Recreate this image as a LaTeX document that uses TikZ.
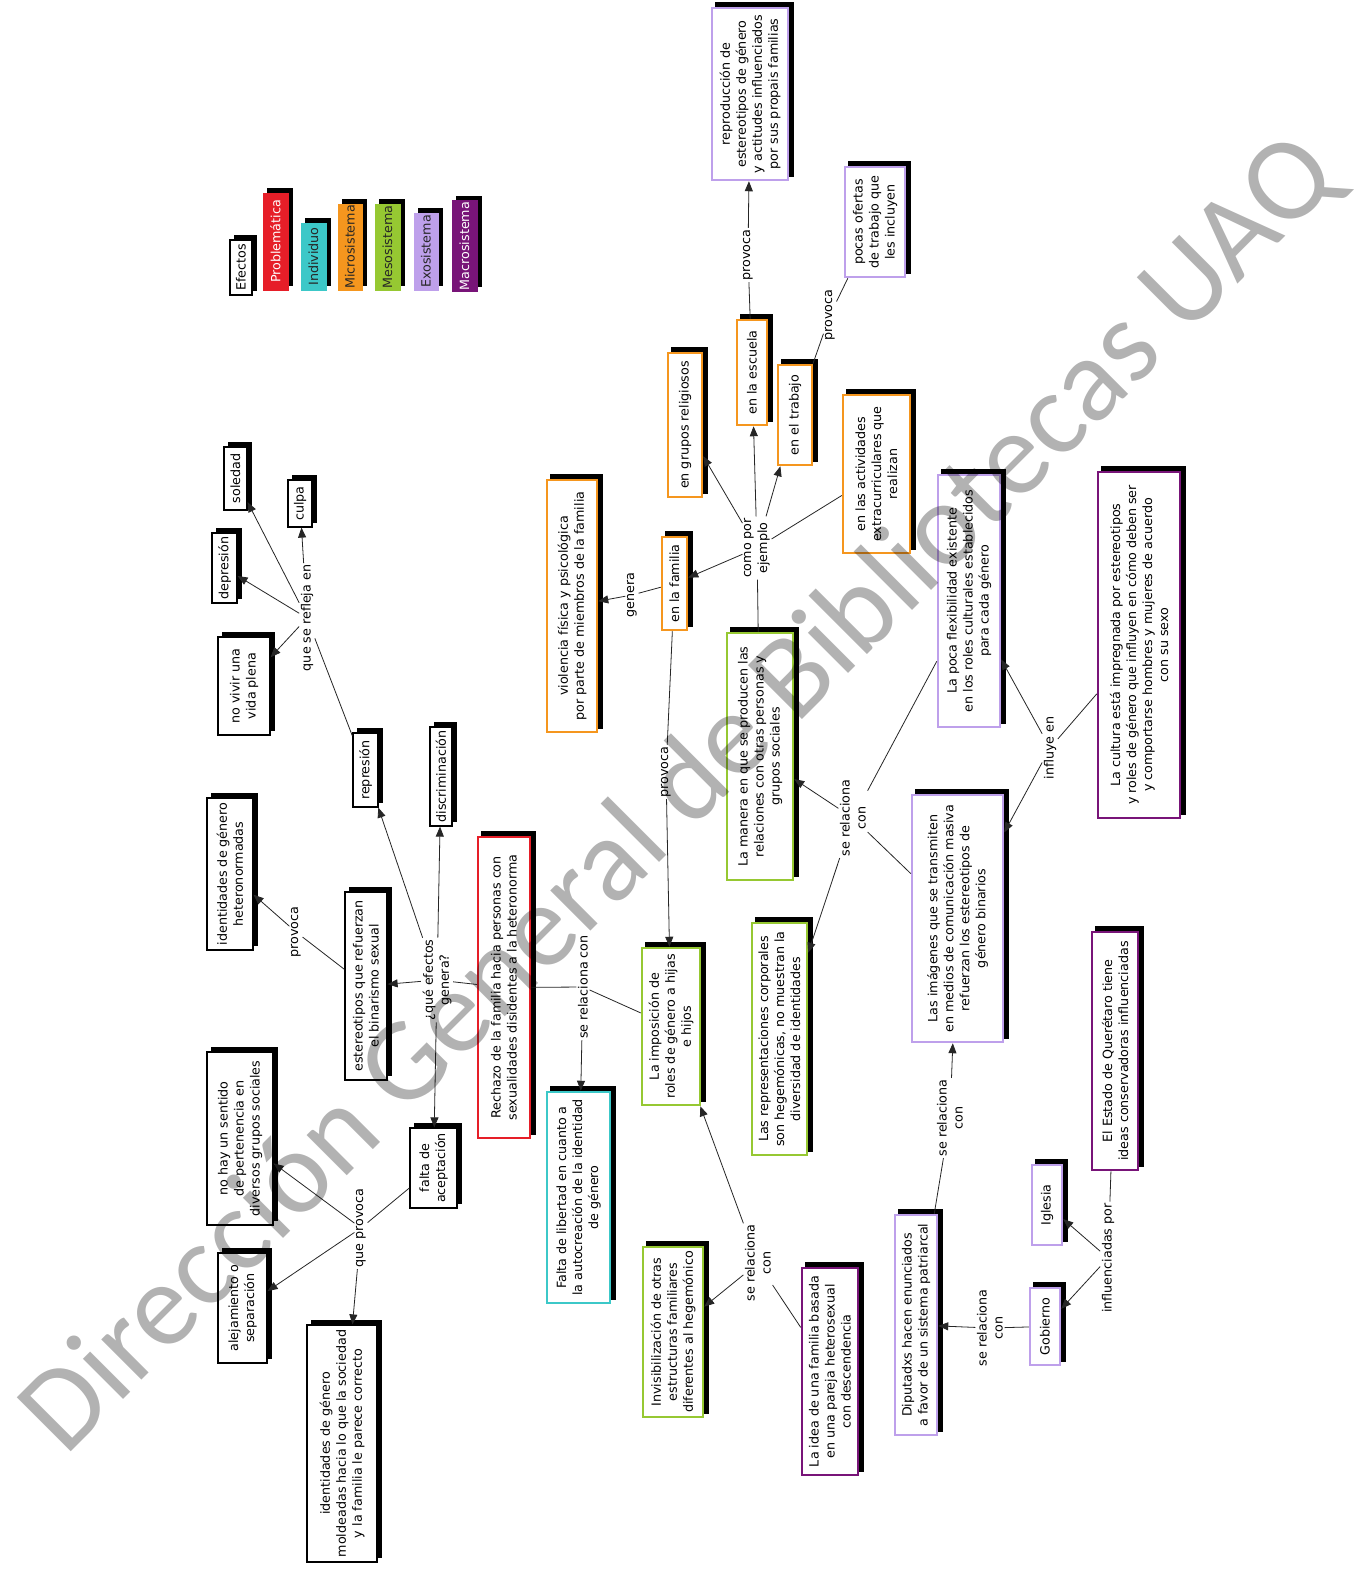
\documentclass[tikz,border=0pt]{standalone}
\usepackage{fontspec}
\setmainfont{DejaVu Sans}
\newfontfamily\wmfont{Carlito}
\usetikzlibrary{arrows.meta,backgrounds}
\definecolor{cRed}{RGB}{230,30,40}
\definecolor{cTeal}{RGB}{60,200,200}
\definecolor{cOrange}{RGB}{245,150,30}
\definecolor{cGreen}{RGB}{150,200,50}
\definecolor{cLav}{RGB}{190,160,235}
\definecolor{cPurp}{RGB}{120,20,120}
\tikzset{
  txt/.style={font=\fontsize{12.7}{16}\selectfont},
  bx/.style={txt, rotate=90, fill=white, align=center, inner sep=1pt},
  ebox/.style={bx, draw=black, line width=1.2pt},
  cbox/.style={bx, draw=#1, line width=2.5pt},
  sz/.style 2 args={minimum height=#1pt, minimum width=#2pt},
  lgbox/.style={txt, rotate=90, fill=#1, draw=#1, line width=1pt, inner sep=1pt},
  lb/.style={txt, rotate=90, align=center, inner sep=1.5pt},
  ln/.style={line width=0.8pt, draw=black!85},
  arr/.style={ln, -{Triangle[length=10pt,width=8pt]}}
}
\newcommand{\shd}[1]{\fill[black] ([shift={(4.5,-4.5)}]#1.south west) rectangle ([shift={(4.5,-4.5)}]#1.north east);}
\begin{document}
\begin{tikzpicture}[x=1pt,y=-1pt]
\useasboundingbox (0,0) rectangle (1368,1571);
% legend
\node[ebox, sz={22}{55}] (lgE) at (241,267.5) {Efectos};
\node[lgbox=cRed, text=white, sz={25}{97}] (lgP) at (275.5,241.5) {Problemática};
\node[lgbox=cTeal, text=black!85, sz={25}{67}] (lgI) at (313.5,256.5) {Individuo};
\node[lgbox=cOrange, text=black!85, sz={24}{86}] (lgMi) at (350,247) {Microsistema};
\node[lgbox=cGreen, text=black!85, sz={25}{86}] (lgMe) at (387.5,247) {Mesosistema};
\node[lgbox=cLav, text=black!85, sz={24}{77}] (lgX) at (426,251.5) {Exosistema};
\node[lgbox=cPurp, text=white, sz={25}{88}] (lgMa) at (464.5,246) {Macrosistema};
% boxes
\node[cbox=cLav, sz={76}{172}] (repro) at (750,94) {reproducción de\\estereotipos de género\\y actitudes influenciados\\por sus propais familias};
\node[cbox=cLav, sz={60}{110}] (pocas) at (875,222) {pocas ofertas\\de trabajo que\\les incluyen};
\node[cbox=cOrange, sz={30}{105}] (escuela) at (752,372.5) {en la escuela};
\node[cbox=cOrange, sz={34}{100}] (trabajo) at (795,415) {en el trabajo};
\node[cbox=cOrange, sz={34}{144}] (relig) at (685,425) {en grupos religiosos};
\node[cbox=cOrange, sz={67}{158}] (extra) at (876.5,474) {en las actividades\\extracurriculares que\\realizan};
\node[cbox=cOrange, sz={25}{93}] (familia) at (674.5,583.5) {en la familia};
\node[cbox=cOrange, sz={50}{252}] (violencia) at (572,606) {violencia física y psicológica\\por parte de miembros de la familia};
\node[cbox=cGreen, sz={66}{247}] (manera) at (760,756.5) {La manera en que se producen las\\relaciones con otras personas y\\grupos sociales};
\node[cbox=cLav, sz={62}{252}] (poca) at (969,601) {La poca flexibilidad existente\\en los roles culturales establecidos\\para cada género};
\node[cbox=cPurp, sz={82}{346}] (cultura) at (1139,645) {La cultura está impregnada por estereotipos\\y roles de género que influyen en cómo deben ser\\y comportarse hombres y mujeres de acuerdo\\con su sexo};
\node[cbox=cLav, sz={91}{247}] (imagenes) at (957.5,918.5) {Las imágenes que se transmiten\\en medios de comunicación masiva\\refuerzan los estereotipos de\\género binarios};
\node[cbox=cGreen, sz={55}{232}] (represent) at (779.5,1039) {Las representaciones corporales\\son hegemónicas, no muestran la\\diversidad de identidades};
\node[cbox=cGreen, sz={58}{157}] (imposicion) at (671,1026.5) {La imposición de\\roles de género a hijas\\e hijos};
\node[cbox=cTeal, sz={63}{211}] (faltalib) at (578.5,1197.5) {Falta de libertad en cuanto a\\la autocreación de la identidad\\de género};
\node[cbox=cRed, sz={52}{301}] (rechazo) at (504,987.5) {Rechazo de la familia hacia personas con\\sexualidades disidentes a la heteronorma};
\node[cbox=cGreen, sz={60}{170}] (invis) at (673,1332) {Invisibilización de otras\\estructuras familiares\\diferentes al hegemónico};
\node[cbox=cPurp, sz={56}{207}] (idea) at (830,1371.5) {La idea de una familia basada\\en una pareja heterosexual\\con descendencia};
\node[cbox=cLav, sz={42}{220}] (diputadxs) at (916,1325) {Diputadxs hacen enunciados\\a favor de un sistema patriarcal};
\node[cbox=cLav, sz={30}{77}] (gobierno) at (1045,1326.5) {Gobierno};
\node[cbox=cLav, sz={30}{80}] (iglesia) at (1047,1205) {Iglesia};
\node[cbox=cPurp, sz={46}{238}] (estado) at (1115,1051) {El Estado de Querétaro tiene\\ideas conservadoras influenciadas};
\node[ebox, sz={23}{63}] (soledad) at (235.5,478.5) {soledad};
\node[ebox, sz={24}{47}] (culpa) at (300,503.5) {culpa};
\node[ebox, sz={25}{70}] (depresion) at (224.5,568) {depresión};
\node[ebox, sz={52}{98}] (novivir) at (244,686) {no vivir una\\vida plena};
\node[ebox, sz={25}{74}] (represion) at (365.5,770) {represión};
\node[ebox, sz={22}{99}] (discrim) at (441,776.5) {discriminación};
\node[ebox, sz={46}{152}] (idhetero) at (230,874) {identidades de género\\heteronormadas};
\node[ebox, sz={42}{188}] (estereo) at (366,986) {estereotipos que refuerzan\\el binarismo sexual};
\node[ebox, sz={47}{80}] (faltaacep) at (433.5,1168) {falta de\\aceptación};
\node[ebox, sz={66}{173}] (nohay) at (240,1138.5) {no hay un sentido\\de pertenencia en\\diversos grupos sociales};
\node[ebox, sz={49}{110}] (alej) at (242.5,1308) {alejamiento o\\separación};
\node[ebox, sz={70}{237}] (idmold) at (342,1443.5) {identidades de género\\moldeadas hacia lo que la sociedad\\y la familia le parece correcto};
% shadows
\begin{scope}[on background layer]
\fill[white] (0,0) rectangle (1368,1571);
\foreach \n in {lgE,lgP,lgI,lgMi,lgMe,lgX,lgMa,repro,pocas,escuela,trabajo,relig,extra,familia,violencia,manera,poca,cultura,imagenes,represent,imposicion,faltalib,rechazo,invis,idea,diputadxs,gobierno,iglesia,estado,soledad,culpa,depresion,novivir,represion,discrim,idhetero,estereo,faltaacep,nohay,alej,idmold}{\shd{\n}}
\end{scope}
% labels
\node[lb] (Lp1) at (748,255) {provoca};
\node[lb] (Lp2) at (830,315) {provoca};
\node[lb] (Lcomo) at (757,548) {como por\\ejemplo};
\node[lb] (Lgen) at (632,595) {genera};
\node[lb] (Lp3) at (666,772) {provoca};
\node[lb] (Lref) at (307,618) {que se refleja en};
\node[lb] (Lp4) at (296,932) {provoca};
\node[lb] (Lque) at (437,980) {¿qué efectos\\genera?};
\node[lb] (Lr1) at (583,987) {se relaciona con};
\node[lb] (Lqp) at (361,1228) {que provoca};
\node[lb] (Lr2) at (758,1263) {se relaciona\\con};
\node[lb] (Lr3) at (853,818) {se relaciona\\con};
\node[lb] (Linf) at (1050,748) {influye en};
\node[lb] (Lr4) at (950,1118) {se relaciona\\con};
\node[lb] (Lr5) at (990,1328) {se relaciona\\con};
\node[lb] (Lip) at (1108,1258) {influenciadas por};
% connectors
\draw[ln] (escuela) -- (Lp1); \draw[arr] (Lp1) -- (repro);
\draw[ln] (trabajo) -- (Lp2); \draw[ln] (Lp2) -- (pocas);
\draw[ln] (manera) -- (Lcomo);
\draw[arr] (Lcomo) -- (familia);
\draw[arr] (Lcomo) -- (relig);
\draw[arr] (Lcomo) -- (escuela);
\draw[arr] (Lcomo) -- (trabajo);
\draw[ln] (Lcomo) -- (extra);
\draw[ln] (familia) -- (Lgen); \draw[arr] (Lgen) -- (violencia);
\draw[ln] (familia) -- (Lp3); \draw[arr] (Lp3) -- (imposicion);
\draw[ln] (represion) -- (Lref);
\draw[arr] (Lref) -- (soledad);
\draw[arr] (Lref) -- (culpa);
\draw[arr] (Lref) -- (depresion);
\draw[arr] (Lref) -- (novivir);
\draw[ln] (estereo) -- (Lp4); \draw[arr] (Lp4) -- (idhetero);
\draw[ln] (rechazo) -- (Lque);
\draw[arr] (Lque) -- (estereo);
\draw[arr] (Lque) -- (represion);
\draw[arr] (Lque) -- (discrim);
\draw[arr] (Lque) -- (faltaacep);
\draw[ln] (rechazo) -- (Lr1);
\draw[ln] (Lr1) -- (imposicion);
\draw[arr] (Lr1) -- (faltalib);
\draw[ln] (faltaacep) -- (Lqp);
\draw[arr] (Lqp) -- (nohay);
\draw[arr] (Lqp) -- (alej);
\draw[arr] (Lqp) -- (idmold);
\draw[ln] (idea) -- (Lr2);
\draw[arr] (Lr2) -- (imposicion);
\draw[arr] (Lr2) -- (invis);
\draw[ln] (poca) -- (Lr3);
\draw[ln] (imagenes) -- (Lr3);
\draw[arr] (Lr3) -- (manera);
\draw[arr] (Lr3) -- (represent);
\draw[ln] (cultura) -- (Linf);
\draw[arr] (Linf) -- (poca);
\draw[arr] (Linf) -- (imagenes);
\draw[ln] (diputadxs) -- (Lr4); \draw[arr] (Lr4) -- (imagenes);
\draw[ln] (gobierno) -- (Lr5); \draw[arr] (Lr5) -- (diputadxs);
\draw[ln] (estado) -- (Lip);
\draw[arr] (Lip) -- (iglesia);
\draw[arr] (Lip) -- (gobierno);
% watermark
\node[rotate=45, text=black, text opacity=0.3, font=\wmfont\fontsize{119}{119}\selectfont] (wm) at (680,795) {Dirección General de Bibliotecas UAQ};
\end{tikzpicture}
\end{document}
